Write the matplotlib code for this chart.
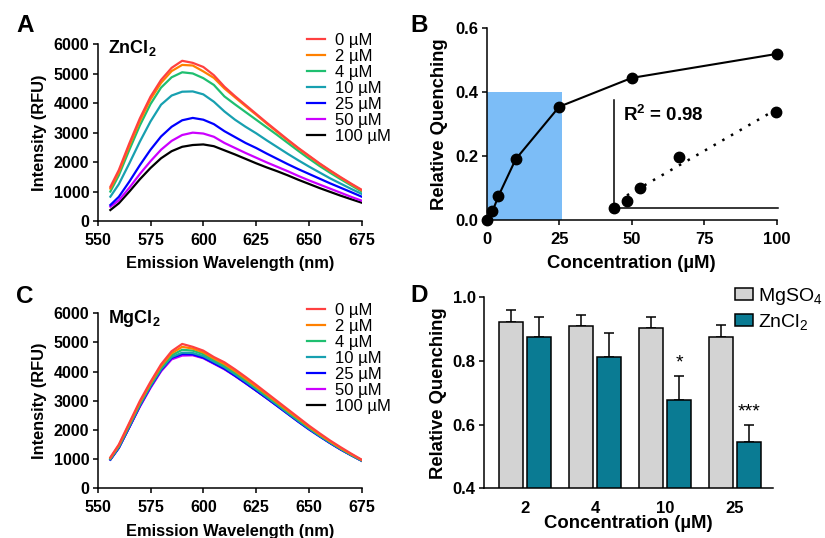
import numpy as np
import matplotlib
matplotlib.use("Agg")
import matplotlib.pyplot as plt

plt.rcParams['font.family'] = ['Liberation Sans', 'DejaVu Sans']
plt.rcParams['mathtext.fontset'] = 'custom'
plt.rcParams['mathtext.rm'] = 'Liberation Sans'
plt.rcParams['mathtext.bf'] = 'Liberation Sans:bold'
plt.rcParams['mathtext.default'] = 'regular'

# ---------------- data ----------------
wavelength = [556, 560, 565, 570, 575, 580, 585, 590, 595, 600, 605, 610, 615,
              620, 625, 630, 635, 640, 645, 650, 655, 660, 665, 670, 675]
conc_labels = ["0 µM", "2 µM", "4 µM", "10 µM", "25 µM", "50 µM", "100 µM"]
line_colors = ["#ff4040", "#ff8000", "#1fbf70", "#17a0b0", "#0000ff", "#cc00ff", "#000000"]

zn_0 = [1160, 1730, 2640, 3490, 4220, 4790, 5200, 5440, 5370, 5230, 4950, 4560, 4240,
        3940, 3640, 3340, 3050, 2760, 2480, 2220, 1960, 1720, 1490, 1270, 1060]
zn_2 = [1100, 1660, 2560, 3400, 4130, 4690, 5090, 5300, 5280, 5080, 4860, 4500, 4200,
        3900, 3610, 3310, 3020, 2740, 2460, 2200, 1940, 1700, 1470, 1250, 1040]
zn_4 = [1000, 1550, 2420, 3250, 3970, 4530, 4880, 5050, 5010, 4850, 4620, 4230, 3960,
        3700, 3440, 3180, 2920, 2650, 2380, 2120, 1870, 1640, 1420, 1210, 1000]
zn_10 = [826, 1250, 1960, 2700, 3380, 3950, 4260, 4390, 4400, 4300, 4050, 3720, 3440,
         3200, 2980, 2740, 2510, 2280, 2060, 1850, 1650, 1450, 1270, 1090, 920]
zn_25 = [543, 820, 1340, 1900, 2420, 2870, 3200, 3420, 3500, 3440, 3290, 3050, 2850,
         2650, 2480, 2290, 2110, 1930, 1760, 1600, 1440, 1280, 1130, 980, 826]
zn_50 = [486, 700, 1130, 1600, 2030, 2420, 2720, 2920, 3000, 2970, 2860, 2650, 2480,
         2310, 2150, 1990, 1840, 1690, 1530, 1380, 1240, 1100, 960, 820, 690]
zn_100 = [373, 600, 1000, 1420, 1800, 2130, 2370, 2520, 2580, 2600, 2540, 2400, 2260,
          2110, 1960, 1820, 1690, 1550, 1400, 1260, 1120, 990, 860, 740, 622]

mg_0 = [1060, 1500, 2250, 3000, 3650, 4250, 4700, 4950, 4850, 4720, 4500, 4320, 4080,
        3820, 3550, 3270, 2990, 2710, 2430, 2150, 1890, 1640, 1410, 1190, 980]
mg_2 = [1040, 1470, 2210, 2950, 3600, 4190, 4630, 4850, 4790, 4660, 4450, 4260, 4020,
        3760, 3490, 3220, 2940, 2660, 2390, 2110, 1850, 1610, 1380, 1170, 970]
mg_4 = [1020, 1440, 2170, 2900, 3550, 4130, 4560, 4750, 4720, 4600, 4400, 4200, 3960,
        3710, 3440, 3170, 2900, 2620, 2350, 2080, 1830, 1590, 1360, 1150, 960]
mg_10 = [1000, 1410, 2130, 2860, 3510, 4080, 4500, 4650, 4640, 4530, 4340, 4150, 3910,
         3660, 3400, 3130, 2860, 2580, 2310, 2050, 1800, 1570, 1350, 1140, 950]
mg_25 = [980, 1380, 2100, 2830, 3480, 4050, 4470, 4600, 4590, 4480, 4290, 4100, 3860,
         3610, 3350, 3090, 2820, 2550, 2280, 2020, 1780, 1550, 1330, 1130, 940]
mg_50 = [990, 1390, 2090, 2800, 3440, 4010, 4420, 4550, 4560, 4460, 4270, 4080, 3850,
         3600, 3350, 3090, 2830, 2560, 2290, 2040, 1800, 1560, 1340, 1140, 950]
mg_100 = [990, 1400, 2110, 2830, 3470, 4040, 4450, 4580, 4580, 4480, 4290, 4100, 3870,
          3620, 3360, 3100, 2840, 2570, 2300, 2040, 1800, 1560, 1340, 1140, 950]

zn_series = [zn_0, zn_2, zn_4, zn_10, zn_25, zn_50, zn_100]
mg_series = [mg_0, mg_2, mg_4, mg_10, mg_25, mg_50, mg_100]

b_conc = [0, 2, 4, 10, 25, 50, 100]
b_quench = [0.0, 0.027, 0.074, 0.19, 0.354, 0.444, 0.519]

d_groups = ["2", "4", "10", "25"]
d_mg_mean = [0.923, 0.910, 0.903, 0.874]
d_mg_err = [0.037, 0.034, 0.034, 0.039]
d_zn_mean = [0.874, 0.813, 0.677, 0.545]
d_zn_err = [0.065, 0.076, 0.076, 0.054]
d_sig = ["", "", "*", "***"]

# ---------------- figure ----------------
W, H = 825, 538
fig = plt.figure(figsize=(W / 100, H / 100), dpi=100)

LW = 1.1


def style(ax, tickfs):
    for s in ['top', 'right']:
        ax.spines[s].set_visible(False)
    for s in ['left', 'bottom']:
        ax.spines[s].set_linewidth(LW)
    ax.tick_params(direction='out', length=3.6, width=LW, labelsize=tickfs)
    ax.tick_params(axis='x', pad=5)
    ax.tick_params(axis='y', pad=2.5)
    for lab in ax.get_xticklabels() + ax.get_yticklabels():
        lab.set_fontweight('bold')


def spectra(ax, series, title, title_base, legend_top):
    for ys, c, lab in reversed(list(zip(series, line_colors, conc_labels))):
        ax.plot(wavelength, ys, color=c, lw=1.6, label=lab)
    ax.set_xlim(550, 675)
    ax.set_ylim(0, 6000)
    ax.set_xticks([550, 575, 600, 625, 650, 675])
    ax.set_yticks([0, 1000, 2000, 3000, 4000, 5000, 6000])
    style(ax, 11.5)
    ax.set_xlabel("Emission Wavelength (nm)", fontsize=11.8, fontweight='bold', labelpad=6)
    ax.set_ylabel("Intensity (RFU)", fontsize=11.8, fontweight='bold', labelpad=5)
    fig.text(108 / W, 1 - title_base / H, title, fontsize=13, fontweight='bold',
             va='baseline', ha='left')
    h, l = ax.get_legend_handles_labels()
    ax.legend(h[::-1], l[::-1], loc='upper left', bbox_to_anchor=(307 / W, legend_top),
              bbox_transform=fig.transFigure, frameon=False, fontsize=12,
              handlelength=1.1, handletextpad=0.6, labelspacing=0.06,
              borderpad=0, borderaxespad=0)


# Panel A
axA = fig.add_axes([97.7 / W, 1 - 221 / H, 264 / W, 176.7 / H])
spectra(axA, zn_series, r"ZnCl$\mathbf{_2}$", 53, 1 - 33 / H)

# Panel C
axC = fig.add_axes([97.7 / W, 1 - 488.3 / H, 264 / W, 175 / H])
spectra(axC, mg_series, r"MgCl$\mathbf{_2}$", 323, 1 - 303 / H)

# Panel B
axB = fig.add_axes([486.7 / W, 1 - 220 / H, 290 / W, 192 / H])
axB.add_patch(plt.Rectangle((0, 0), 26, 0.4, color="#7cbdf7", lw=0, zorder=0))
axB.plot(b_conc, b_quench, color='black', lw=1.5, marker='o', ms=7.5, clip_on=False, zorder=3)
axB.set_xlim(0, 100)
axB.set_ylim(0, 0.6)
axB.set_xticks([0, 25, 50, 75, 100])
axB.set_yticks([0.0, 0.2, 0.4, 0.6])
axB.set_yticklabels(["0.0", "0.2", "0.4", "0.6"])
style(axB, 12)
axB.set_xlabel("Concentration (µM)", fontsize=13.3, fontweight='bold', labelpad=6)
axB.set_ylabel("Relative Quenching", fontsize=13.3, fontweight='bold', labelpad=5)

# inset: zoom of the low-concentration range
ins = axB.inset_axes([43.9, 0.037, 56.6, 0.338], transform=axB.transData)
ins.patch.set_alpha(0)
low_x = b_conc[:5]
low_y = b_quench[:5]
ins.plot(low_x, low_y, 'o', color='black', ms=7.5, clip_on=False)
k, b0 = np.polyfit(low_x[1:], low_y[1:], 1)
fx = np.array([low_x[1], low_x[-1]])
ins.plot(fx, k * fx + b0, color='black', lw=1.8, ls=(0, (1, 3)))
ins.set_xlim(0, 25.3)
ins.set_ylim(0, 0.4)
for s in ['top', 'right']:
    ins.spines[s].set_visible(False)
for s in ['left', 'bottom']:
    ins.spines[s].set_linewidth(LW)
ins.set_xticks([])
ins.set_yticks([])
axB.text(47, 0.31, r"R$\mathbf{^2}$ = 0.98", fontsize=13.5, fontweight='bold',
         va='baseline', ha='left')

# Panel D
axD = fig.add_axes([484 / W, 1 - 488.3 / H, 289 / W, 191 / H])
xg = np.arange(len(d_groups))
bw = 0.35
axD.bar(xg - 0.2, d_mg_mean, bw, color="#d3d3d3", edgecolor='black', lw=1.1,
        label=r"MgSO$_4$", zorder=2)
axD.bar(xg + 0.2, d_zn_mean, bw, color="#0a7b93", edgecolor='black', lw=1.1,
        label=r"ZnCl$_2$", zorder=2)
axD.errorbar(xg - 0.2, d_mg_mean, yerr=[np.zeros(4), d_mg_err], fmt='none',
             ecolor='black', elinewidth=1.1, capsize=3.5, capthick=1.1, zorder=1)
axD.errorbar(xg + 0.2, d_zn_mean, yerr=[np.zeros(4), d_zn_err], fmt='none',
             ecolor='black', elinewidth=1.1, capsize=3.5, capthick=1.1, zorder=1)
for i, s in enumerate(d_sig):
    if s:
        axD.text(xg[i] + 0.2, d_zn_mean[i] + d_zn_err[i] + 0.04, s, ha='center',
                 va='center', fontsize=14)
axD.set_xlim(-0.586, 3.543)
axD.set_ylim(0.4, 1.0)
axD.set_xticks(xg)
axD.set_xticklabels(d_groups)
axD.set_yticks([0.4, 0.6, 0.8, 1.0])
style(axD, 12)
axD.tick_params(axis='x', length=0, pad=9.5)
axD.set_xlabel("Concentration (µM)", fontsize=13.3, fontweight='bold', labelpad=-1)
axD.set_ylabel("Relative Quenching", fontsize=13.3, fontweight='bold', labelpad=4)
axD.legend(loc='upper left', bbox_to_anchor=(735 / W, 1 - 286 / H),
           bbox_transform=fig.transFigure, frameon=False,
           fontsize=14, handlelength=0.9, handleheight=0.62, handletextpad=0.3,
           labelspacing=0.25, borderpad=0, borderaxespad=0)

# panel letters
for letter, x, y in [("A", 16, 31.7), ("B", 410, 31.7), ("C", 16, 303), ("D", 410, 302)]:
    fig.text(x / W, 1 - y / H, letter, fontsize=17.5, fontweight='bold',
             va='baseline', ha='left')

fig.savefig("out.png", dpi=100)
